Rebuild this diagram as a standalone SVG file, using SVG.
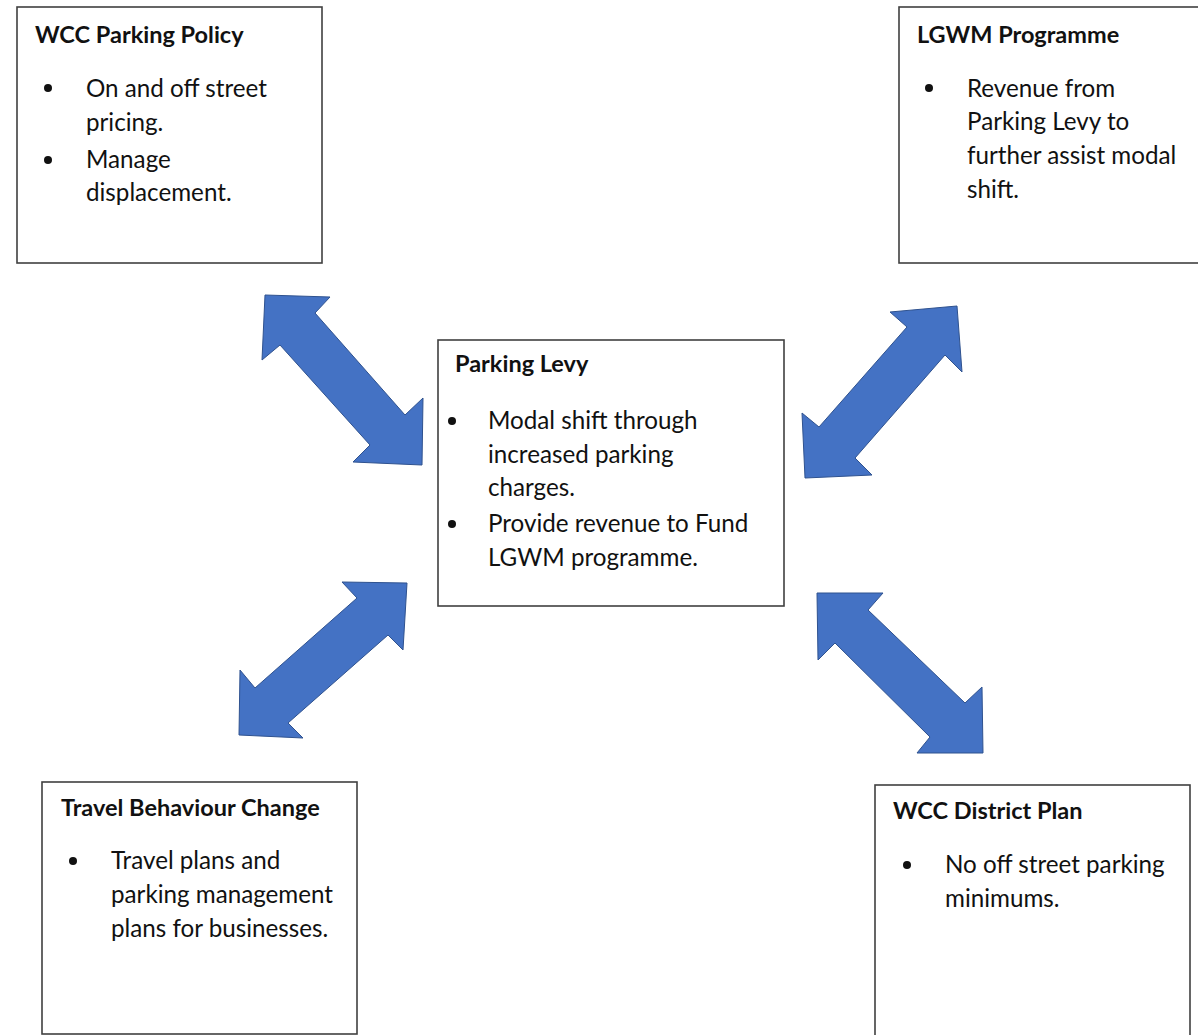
<svg xmlns="http://www.w3.org/2000/svg" width="1198" height="1035" viewBox="0 0 1198 1035">
<style>
.box{fill:#fff;stroke:#404040;stroke-width:1.6}
.t{font-family:Lato,"Liberation Sans",sans-serif;font-weight:bold;font-size:23.5px;fill:#111}
.b{font-family:Lato,"Liberation Sans",sans-serif;font-size:24.2px;fill:#111}
.dot{fill:#111}
.arr{fill:#4472C4;stroke:#2F528F;stroke-width:1;stroke-linejoin:miter}
</style>
<rect width="1198" height="1035" fill="#fff"/>
<g id="connectors">
<polygon class="arr" points="265,295 330,297 315,313 405,415 423,398 422,465 353,462 370,445 280,345 262,360"/>
<polygon class="arr" points="957,306 962,372 945,355 855,458 872,475 805,478 802,413 819,427 907,327 890,312"/>
<polygon class="arr" points="407,583 403,650 388,635 288,723 303,738 239,735 240,670 255,688 357,598 342,582"/>
<polygon class="arr" points="817,593 883,593 868,610 965,703 982,687 983,753 917,753 930,737 835,643 818,660"/>
</g>
<g id="wcc-parking-policy">
<rect class="box" x="17" y="7" width="305" height="256"/>
<text class="t" x="35" y="43">WCC Parking Policy</text>
<circle class="dot" cx="48" cy="88" r="4"/>
<text class="b" x="86" y="97">On and off street</text>
<text class="b" x="86" y="131">pricing.</text>
<circle class="dot" cx="48" cy="160" r="4"/>
<text class="b" x="86" y="168">Manage</text>
<text class="b" x="86" y="201">displacement.</text>
</g>
<g id="lgwm-programme">
<rect class="box" x="899" y="7" width="310" height="256"/>
<text class="t" x="917" y="43">LGWM Programme</text>
<circle class="dot" cx="929" cy="88" r="4"/>
<text class="b" x="967" y="97">Revenue from</text>
<text class="b" x="967" y="130">Parking Levy to</text>
<text class="b" x="967" y="164">further assist modal</text>
<text class="b" x="967" y="198">shift.</text>
</g>
<g id="parking-levy">
<rect class="box" x="438" y="340" width="346" height="266"/>
<text class="t" x="455" y="372">Parking Levy</text>
<circle class="dot" cx="452" cy="421" r="4"/>
<text class="b" x="488" y="429">Modal shift through</text>
<text class="b" x="488" y="463">increased parking</text>
<text class="b" x="488" y="496">charges.</text>
<circle class="dot" cx="452" cy="524" r="4"/>
<text class="b" x="488" y="532">Provide revenue to Fund</text>
<text class="b" x="488" y="566">LGWM programme.</text>
</g>
<g id="travel-behaviour-change">
<rect class="box" x="42" y="782" width="315" height="252"/>
<text class="t" x="61" y="816">Travel Behaviour Change</text>
<circle class="dot" cx="73" cy="861" r="4"/>
<text class="b" x="111" y="869">Travel plans and</text>
<text class="b" x="111" y="903">parking management</text>
<text class="b" x="111" y="937">plans for businesses.</text>
</g>
<g id="wcc-district-plan">
<rect class="box" x="875" y="785" width="315" height="260"/>
<text class="t" x="893" y="819">WCC District Plan</text>
<circle class="dot" cx="907" cy="865" r="4"/>
<text class="b" x="945" y="873">No off street parking</text>
<text class="b" x="945" y="907">minimums.</text>
</g>
</svg>
